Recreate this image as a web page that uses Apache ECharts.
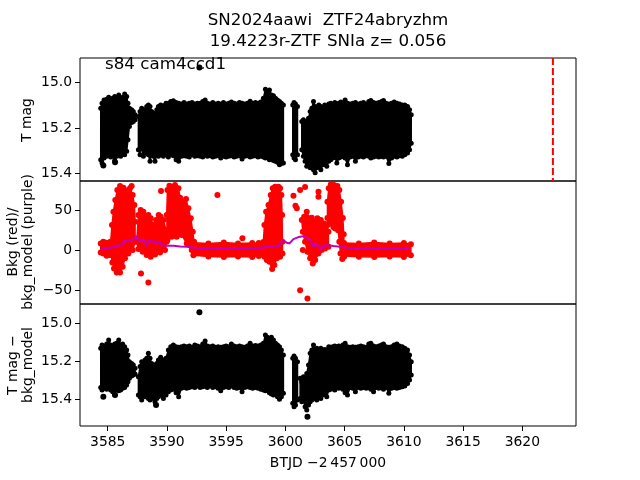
<!DOCTYPE html>
<html><head><meta charset="utf-8">
<script src="https://cdn.jsdelivr.net/npm/echarts@6/dist/echarts.min.js"></script>
<style>html,body{margin:0;padding:0;background:#fff}#c{width:640px;height:480px}</style>
</head><body><div id="c"></div><script>
// ---- Top panel: T mag envelope (upper = brighter edge, lower = fainter edge); null separates data segments
const magTime = [3584.41,3584.52,3584.69,3584.91,3585.08,3585.25,3585.42,3585.59,3585.76,3585.93,3586.09,3586.26,3586.43,3586.60,3586.71,3586.83,3587.02,3587.16,3587.31,null,
3587.59,3587.73,3587.87,3588.01,3588.15,3588.29,3588.43,3588.57,3588.71,3588.85,3588.99,3589.14,3589.28,3589.47,3589.70,3589.92,3590.12,3590.32,3590.54,3590.77,3590.99,3591.22,3591.44,3591.67,3591.89,3592.12,3592.35,3592.57,3592.80,3593.02,3593.22,3593.41,3593.64,3593.87,3594.09,3594.32,3594.54,3594.77,3594.99,3595.22,3595.44,3595.67,3595.89,3596.12,3596.34,3596.57,3596.79,3597.02,3597.24,3597.47,3597.69,3597.92,3598.14,3598.31,3598.48,3598.65,3598.82,3598.99,3599.16,3599.33,3599.50,3599.66,3599.83,null,
3600.62,3600.73,3600.85,3601.02,null,
3601.38,3601.52,3601.66,3601.80,3601.95,3602.09,3602.23,3602.37,3602.51,3602.65,3602.82,3602.99,3603.16,3603.32,3603.49,3603.66,3603.83,3604.00,3604.17,3604.34,3604.51,3604.68,3604.85,3605.04,3605.24,3605.46,3605.69,3605.91,3606.14,3606.37,3606.59,3606.82,3607.04,3607.21,3607.44,3607.66,3607.89,3608.11,3608.28,3608.50,3608.73,3608.96,3609.18,3609.41,3609.63,3609.86,3610.08,3610.31,3610.48,3610.62];
const magUpper = [15.113,15.091,15.076,15.073,15.064,15.076,15.069,15.061,15.073,15.054,15.069,15.064,15.050,15.061,15.091,15.113,15.120,15.127,15.142,null,
15.149,15.127,15.113,15.142,15.120,15.105,15.098,15.105,15.127,15.142,15.135,15.120,15.105,15.098,15.102,15.091,15.091,15.083,15.080,15.088,15.091,15.094,15.088,15.094,15.091,15.088,15.094,15.091,15.091,15.083,15.076,15.091,15.094,15.088,15.094,15.091,15.094,15.088,15.094,15.091,15.085,15.091,15.094,15.088,15.091,15.094,15.091,15.082,15.091,15.088,15.091,15.085,15.069,15.029,15.039,15.032,15.054,15.058,15.069,15.076,15.083,15.091,15.098,null,
15.098,15.088,15.094,15.105,null,
15.171,15.164,15.179,15.171,15.157,15.127,15.113,15.083,15.105,15.113,15.098,15.105,15.113,15.098,15.105,15.094,15.091,15.098,15.088,15.094,15.091,15.085,15.094,15.076,15.091,15.094,15.091,15.088,15.094,15.091,15.088,15.094,15.083,15.079,15.088,15.091,15.088,15.083,15.079,15.091,15.094,15.091,15.085,15.091,15.094,15.098,15.098,15.105,15.120,15.142];
const magLower = [15.340,15.354,15.332,15.325,15.318,15.328,15.322,15.343,15.325,15.318,15.325,15.313,15.318,15.303,15.252,15.193,15.176,15.171,15.164,null,
15.296,15.318,15.281,15.325,15.310,15.296,15.318,15.347,15.310,15.325,15.347,15.318,15.325,15.318,15.325,15.318,15.328,15.318,15.322,15.340,15.347,15.325,15.322,15.325,15.328,15.318,15.325,15.322,15.325,15.328,15.318,15.325,15.322,15.328,15.325,15.322,15.332,15.325,15.328,15.325,15.322,15.328,15.325,15.322,15.337,15.325,15.322,15.328,15.325,15.322,15.328,15.325,15.328,15.332,15.325,15.340,15.337,15.343,15.347,15.351,15.362,15.357,15.354,null,
15.318,15.332,15.340,15.318,null,
15.296,15.325,15.347,15.369,15.354,15.376,15.362,15.384,15.398,15.376,15.369,15.384,15.362,15.354,15.369,15.347,15.340,15.332,15.328,15.354,15.332,15.328,15.325,15.332,15.362,15.328,15.325,15.347,15.328,15.325,15.328,15.322,15.325,15.332,15.328,15.325,15.328,15.325,15.328,15.325,15.357,15.332,15.325,15.328,15.322,15.325,15.318,15.310,15.296,15.267];
const magDotTime = [3592.74,3584.63,3585.62];
const magDotValue = [14.933,15.366,15.351];
const peakTime = [3622.58];

// ---- Bottom panel: T mag - bkg_model envelope
const diffTime = [3584.41,3584.52,3584.69,3584.91,3585.08,3585.25,3585.42,3585.59,3585.76,3585.93,3586.09,3586.26,3586.43,3586.60,3586.71,3586.83,3587.02,3587.16,3587.31,null,
3587.59,3587.73,3587.87,3588.01,3588.15,3588.29,3588.43,3588.57,3588.71,3588.85,3588.99,3589.14,3589.28,3589.47,3589.70,3589.92,3590.12,3590.32,3590.54,3590.77,3590.99,3591.22,3591.44,3591.67,3591.89,3592.12,3592.35,3592.57,3592.80,3593.02,3593.22,3593.41,3593.64,3593.87,3594.09,3594.32,3594.54,3594.77,3594.99,3595.22,3595.44,3595.67,3595.89,3596.12,3596.34,3596.57,3596.79,3597.02,3597.24,3597.47,3597.69,3597.92,3598.14,3598.31,3598.48,3598.65,3598.82,3598.99,3599.16,3599.33,3599.50,3599.66,3599.83,null,
3600.62,3600.73,3600.85,3601.02,null,
3601.24,3601.38,3601.52,3601.66,3601.80,3601.95,3602.09,3602.23,3602.37,3602.51,3602.65,3602.82,3602.99,3603.16,3603.32,3603.49,3603.66,3603.83,3604.00,3604.17,3604.34,3604.51,3604.68,3604.85,3605.04,3605.24,3605.46,3605.69,3605.91,3606.14,3606.37,3606.59,3606.82,3607.04,3607.21,3607.44,3607.66,3607.89,3608.11,3608.28,3608.50,3608.73,3608.96,3609.18,3609.41,3609.63,3609.86,3610.08,3610.31,3610.48,3610.62];
const diffUpper = [15.132,15.115,15.124,15.110,15.088,15.115,15.120,15.110,15.106,15.088,15.115,15.110,15.124,15.141,15.168,15.203,15.212,15.221,15.238,null,
15.282,15.229,15.203,15.221,15.194,15.185,15.159,15.185,15.212,15.229,15.221,15.212,15.194,15.180,15.194,15.185,15.141,15.124,15.115,15.124,15.127,15.124,15.120,15.124,15.120,15.127,15.115,15.120,15.124,15.110,15.094,15.120,15.124,15.120,15.127,15.124,15.127,15.124,15.120,15.124,15.110,15.120,15.124,15.120,15.124,15.127,15.120,15.106,15.120,15.117,15.120,15.115,15.106,15.062,15.074,15.085,15.074,15.088,15.106,15.115,15.124,15.141,15.168,null,
15.185,15.173,15.185,15.203,null,
15.291,15.309,15.282,15.300,15.265,15.221,15.159,15.141,15.115,15.141,15.132,15.141,15.132,15.141,15.138,15.141,15.124,15.127,15.124,15.120,15.124,15.120,15.127,15.115,15.106,15.124,15.127,15.124,15.127,15.124,15.120,15.124,15.127,15.110,15.106,15.120,15.124,15.120,15.115,15.110,15.124,15.127,15.124,15.115,15.110,15.120,15.124,15.132,15.141,15.168,15.203];
const diffLower = [15.339,15.353,15.344,15.349,15.339,15.353,15.362,15.379,15.349,15.356,15.353,15.344,15.339,15.326,15.309,15.291,15.279,15.274,15.268,null,
15.379,15.388,15.406,15.379,15.388,15.370,15.397,15.406,15.388,15.397,15.415,15.397,15.388,15.379,15.397,15.379,15.362,15.353,15.349,15.367,15.388,15.344,15.339,15.344,15.339,15.335,15.339,15.332,15.339,15.335,15.332,15.339,15.332,15.339,15.335,15.344,15.356,15.339,15.335,15.339,15.332,15.339,15.344,15.339,15.362,15.339,15.335,15.339,15.344,15.339,15.344,15.349,15.353,15.356,15.349,15.367,15.374,15.379,15.370,15.388,15.402,15.388,15.370,null,
15.423,15.441,15.432,15.406,null,
15.397,15.415,15.406,15.441,15.459,15.432,15.415,15.406,15.388,15.397,15.406,15.388,15.397,15.379,15.370,15.388,15.353,15.349,15.344,15.353,15.339,15.344,15.339,15.349,15.367,15.379,15.339,15.344,15.362,15.339,15.344,15.339,15.344,15.339,15.349,15.362,15.339,15.344,15.339,15.349,15.339,15.370,15.344,15.339,15.344,15.339,15.335,15.332,15.318,15.300,15.274];
const diffDotTime = [3592.74,3589.08,3601.86,3584.63,3585.62];
const diffDotValue = [14.942,15.432,15.494,15.388,15.379];

// ---- Middle panel: background (red) dense regions as outlines (null separates regions), scattered points, model (purple)
const bkgRegionTime = [3584.41,3584.63,3584.91,3585.25,3585.25,3584.91,3584.63,3584.41,null,
3585.25,3585.36,3585.48,3585.64,3585.81,3586.04,3586.32,3586.55,3586.74,3586.88,3587.11,3587.25,3587.31,3587.31,3587.11,3586.74,3586.46,3586.26,3586.04,3585.76,3585.53,3585.39,3585.28,null,
3587.45,3587.59,3587.78,3588.01,3588.23,3588.43,3588.63,3588.85,3589.08,3589.30,3589.47,3589.70,3589.92,3589.98,3589.84,3589.42,3588.99,3588.63,3588.29,3587.95,3587.59,null,
3589.98,3590.04,3590.21,3590.68,3590.97,3591.11,3591.39,3591.61,3591.81,3592.01,3592.18,3592.29,3592.37,3592.09,3591.67,3591.25,3590.82,3590.40,3590.04,null,
3592.23,3593.5,3594.8,3596.0,3597.2,3598.2,3598.2,3597.2,3596.0,3594.8,3593.5,3592.23,null,
3597.75,3598.14,3598.23,3598.37,3598.57,3598.76,3598.93,3599.13,3599.41,3599.55,3599.66,3599.72,3599.75,3599.75,3599.55,3599.27,3599.07,3598.88,3598.65,3598.43,3598.23,3597.75,null,
3601.38,3601.58,3601.80,3602.03,3602.23,3602.51,3602.70,3602.99,3603.27,3603.55,3603.63,3603.63,3603.35,3603.07,3602.79,3602.51,3602.31,3602.09,3601.86,3601.66,3601.47,null,
3603.55,3603.66,3603.83,3604.11,3604.39,3604.55,3604.70,3604.85,3604.92,3604.95,3604.95,3604.80,3604.65,3604.55,3604.45,3604.30,3604.00,3603.72,3603.55,null,
3604.95,3606.2,3607.5,3608.8,3610.0,3610.59,3610.59,3610.0,3608.8,3607.5,3606.2,3604.95];
const bkgRegionValue = [8.6,10.7,9.5,10.7,-5.8,-6.7,-3.8,-2.5,null,
10.7,31.4,47.9,62.4,74.8,79.8,77.7,72.7,74.8,76.9,68.6,56.2,35.5,10.7,0.4,-3.8,-9.9,-20.3,-27.3,-27.3,-22.4,-14.9,-5.8,null,
10.7,43.8,50.0,47.9,41.7,43.8,39.7,31.4,37.6,43.8,41.7,37.6,25.2,10.7,0.4,-2.5,-5.0,-7.9,-5.8,-1.7,1.6,null,
43.8,74.8,80.2,81.0,76.9,65.3,60.3,63.6,52.1,39.7,23.1,10.7,-3.8,0.4,8.6,19.0,16.9,16.9,12.8,null,
9.5,8.6,9.8,8.6,9.2,8.6,-6.5,-8.3,-7.5,-8.3,-7.5,-6.0,null,
9.0,10.5,31.4,47.9,56.2,68.6,76.9,78.9,78.9,76.9,68.6,43.8,10.7,-3.8,-7.9,-9.9,-18.2,-23.2,-14.1,-12.0,-7.9,-7.0,null,
37.6,41.7,47.9,39.7,40.5,35.5,39.7,37.6,33.4,31.4,23.1,4.5,2.4,0.4,-3.8,-12.0,-16.2,-9.9,-1.7,10.7,23.1,null,
60.3,76.9,81.8,81.0,79.8,74.8,60.3,40.0,20.0,5.0,-8.0,-10.8,-3.8,10.7,25.0,33.0,32.0,35.0,40.0,null,
9.0,8.6,9.6,8.6,9.2,7.5,-6.0,-8.3,-7.5,-8.3,-7.9,-7.0];
const bkgDotTime = [3587.02,3589.50,3594.26,3587.81,3588.43,3596.37,3600.68,3600.85,3600.96,3601.24,3601.66,3601.47,3601.24,3601.86,3602.79,3602.79,3604.20,3604.05];
const bkgDotValue = [79.8,73.6,68.6,-28.6,-39.8,14.9,67.8,55.4,52.1,74.8,78.5,0.4,-49.3,-59.6,72.7,66.5,27.0,29.0];
const modelTime = [3584.41,3584.77,3585.19,3585.76,3586.18,3586.46,3586.88,3587.16,3587.39,3587.59,3587.78,3587.95,3588.15,3588.29,3588.43,3588.57,3588.71,3588.91,3589.14,3589.36,3589.56,3589.98,3590.54,3591.11,3591.67,3592.23,3592.80,3593.92,3595.33,3596.74,3597.86,3598.43,3598.99,3599.41,3599.69,3599.89,3600.12,3600.34,3600.68,3601.10,3601.52,3601.94,3602.14,3602.37,3602.51,3602.65,3602.79,3602.99,3603.21,3603.49,3604.06,3604.62,3605.18,3606.59,3608.00,3609.41,3610.53];
const modelValue = [2.4,1.6,3.3,5.7,6.6,11.9,12.8,13.6,17.7,12.8,10.7,13.6,10.7,5.3,12.8,14.0,10.7,11.5,8.6,10.7,6.6,5.7,5.7,4.9,4.5,3.3,2.9,2.4,2.9,2.4,2.9,4.5,5.3,5.7,10.7,11.9,9.5,8.6,14.0,16.5,17.5,14.9,11.9,4.5,8.6,10.7,5.7,0.4,5.7,6.6,5.3,4.5,3.3,2.4,2.9,2.4,2.9];

// ---- Axis ticks
const timeTicks = [3585,3590,3595,3600,3605,3610,3615,3620];
const magTicks = [15.0,15.2,15.4];
const bkgTicks = [-50,0,50];
const diffTicks = [15.0,15.2,15.4];

const FONT = 'DejaVu Sans';
const X_MIN = 3582.66, X_MAX = 3624.53;
const MAG_MIN = 14.891, MAG_MAX = 15.434;
const BKG_MIN = -66.5, BKG_MAX = 86;
const DIFF_MIN = 14.898, DIFF_MAX = 15.543;

function splitBands(t, a, b) {
  const segs = []; let cur = null;
  for (let i = 0; i < t.length; i++) {
    if (t[i] === null) { cur = null; continue; }
    if (!cur) { cur = {t: [], a: [], b: []}; segs.push(cur); }
    cur.t.push(t[i]); cur.a.push(a[i]); cur.b.push(b ? b[i] : null);
  }
  if (!b) segs.forEach(s => { s.b = null; });
  return segs;
}
function bandSeries(idx, segs, color) {
  return {
    type: 'custom', xAxisIndex: idx, yAxisIndex: idx, clip: true, silent: true,
    data: segs.map((s, i) => [s.t[0], s.a[0], i]),
    encode: {x: 0, y: 1},
    renderItem: (params, api) => {
      const s = segs[api.value(2)];
      const pts = [];
      for (let i = 0; i < s.t.length; i++) pts.push(api.coord([s.t[i], s.a[i]]));
      if (s.b) for (let i = s.t.length - 1; i >= 0; i--) pts.push(api.coord([s.t[i], s.b[i]]));
      return {type: 'polygon', shape: {points: pts}, style: {fill: color, stroke: color, lineWidth: 1.5, lineJoin: 'round'}};
    }
  };
}
// edge points (the outermost observations) drawn as round markers
function edgePoints(t, a, b) {
  const out = [];
  for (let i = 0; i < t.length; i++) {
    if (t[i] === null) continue;
    out.push([t[i], a[i]]);
    if (b) out.push([t[i], b[i]]);
  }
  return out;
}
function dots(idx, data, color, size) {
  return {type: 'scatter', xAxisIndex: idx, yAxisIndex: idx, data: data, symbolSize: size, clip: true,
          itemStyle: {color: color, opacity: 1}, silent: true};
}
function zip(a, b) { return a.map((x, i) => [x, b[i]]); }

const gridBox = {left: 80, width: 496, show: true, borderColor: '#000', borderWidth: 1, backgroundColor: 'transparent'};
const grids = [
  Object.assign({top: 58, height: 123}, gridBox),
  Object.assign({top: 181, height: 123}, gridBox),
  Object.assign({top: 304, height: 122}, gridBox)
];
function xAx(idx, show) {
  return {
    type: 'value', gridIndex: idx, min: X_MIN, max: X_MAX,
    axisLine: {show: false}, splitLine: {show: false},
    axisTick: {show: show, customValues: timeTicks, length: 5, lineStyle: {color: '#000', width: 1}},
    axisLabel: {show: show, customValues: timeTicks, fontFamily: FONT, fontSize: 13.9, color: '#000', margin: 9,
                formatter: v => String(Math.round(v))}
  };
}
function yAx(idx, min, max, ticks, inverse, fmt) {
  return {
    type: 'value', gridIndex: idx, min: min, max: max, inverse: inverse,
    axisLine: {show: false}, splitLine: {show: false},
    axisTick: {show: true, customValues: ticks, length: 5, lineStyle: {color: '#000', width: 1}},
    axisLabel: {customValues: ticks, fontFamily: FONT, fontSize: 13.9, color: '#000', margin: 8, formatter: fmt}
  };
}
const fmt1 = v => v.toFixed(1);
const fmtInt = v => (v < 0 ? '\u2212' + Math.abs(v) : String(v));

const chart = echarts.init(document.getElementById('c'), null, {renderer: 'canvas'});
chart.setOption({
  animation: false,
  backgroundColor: '#fff',
  grid: grids,
  xAxis: [xAx(0, false), xAx(1, false), xAx(2, true)],
  yAxis: [
    yAx(0, MAG_MIN, MAG_MAX, magTicks, true, fmt1),
    yAx(1, BKG_MIN, BKG_MAX, bkgTicks, false, fmtInt),
    yAx(2, DIFF_MIN, DIFF_MAX, diffTicks, true, fmt1)
  ],
  series: [
    bandSeries(0, splitBands(magTime, magUpper, magLower), '#000'),
    dots(0, edgePoints(magTime, magUpper, magLower), '#000', 5),
    dots(0, zip(magDotTime, magDotValue), '#000', 6),
    {type: 'line', xAxisIndex: 0, yAxisIndex: 0, data: [[peakTime[0], MAG_MIN], [peakTime[0], MAG_MAX]], symbol: 'none',
     lineStyle: {color: '#ff0000', width: 2, type: [7, 3]}, silent: true},
    bandSeries(1, splitBands(bkgRegionTime, bkgRegionValue, null), '#ff0000'),
    dots(1, edgePoints(bkgRegionTime, bkgRegionValue, null), '#ff0000', 6),
    dots(1, zip(bkgDotTime, bkgDotValue), '#ff0000', 6),
    {type: 'line', xAxisIndex: 1, yAxisIndex: 1, data: zip(modelTime, modelValue), symbol: 'none',
     lineStyle: {color: '#bf00bf', width: 2}, silent: true},
    bandSeries(2, splitBands(diffTime, diffUpper, diffLower), '#000'),
    dots(2, edgePoints(diffTime, diffUpper, diffLower), '#000', 5),
    dots(2, zip(diffDotTime, diffDotValue), '#000', 6)
  ],
  graphic: [
    {type: 'text', x: 328, y: 21, style: {text: 'SN2024aawi  ZTF24abryzhm', font: '16.7px "DejaVu Sans"', fill: '#000', textAlign: 'center', textVerticalAlign: 'middle'}},
    {type: 'text', x: 328, y: 42, style: {text: '19.4223r-ZTF SNIa z= 0.056', font: '16.7px "DejaVu Sans"', fill: '#000', textAlign: 'center', textVerticalAlign: 'middle'}},
    {type: 'text', x: 105, y: 65, style: {text: 's84 cam4ccd1', font: '16.7px "DejaVu Sans"', fill: '#000', textAlign: 'left', textVerticalAlign: 'middle'}},
    {type: 'text', x: 27, y: 120, rotation: Math.PI / 2, style: {text: 'T mag', font: '13.9px "DejaVu Sans"', fill: '#000', textAlign: 'center', textVerticalAlign: 'middle'}},
    {type: 'text', x: 13, y: 242, rotation: Math.PI / 2, style: {text: 'Bkg (red)/', font: '13.9px "DejaVu Sans"', fill: '#000', textAlign: 'center', textVerticalAlign: 'middle'}},
    {type: 'text', x: 28, y: 242, rotation: Math.PI / 2, style: {text: 'bkg_model (purple)', font: '13.9px "DejaVu Sans"', fill: '#000', textAlign: 'center', textVerticalAlign: 'middle'}},
    {type: 'text', x: 13, y: 365, rotation: Math.PI / 2, style: {text: 'T mag \u2212', font: '13.9px "DejaVu Sans"', fill: '#000', textAlign: 'center', textVerticalAlign: 'middle'}},
    {type: 'text', x: 28, y: 365, rotation: Math.PI / 2, style: {text: 'bkg_model', font: '13.9px "DejaVu Sans"', fill: '#000', textAlign: 'center', textVerticalAlign: 'middle'}},
    {type: 'text', x: 328, y: 463, style: {text: 'BTJD \u22122\u2009457\u2009000', font: '13.9px "DejaVu Sans"', fill: '#000', textAlign: 'center', textVerticalAlign: 'middle'}}
  ]
});
</script></body></html>
